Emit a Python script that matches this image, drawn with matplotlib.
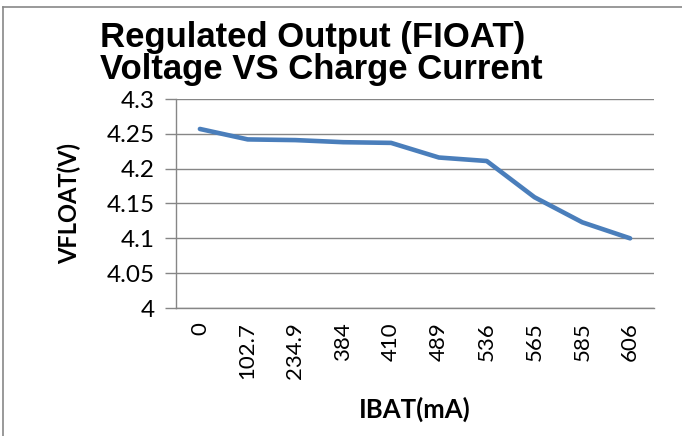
import matplotlib
matplotlib.use("Agg")
import matplotlib.pyplot as plt
from matplotlib.lines import Line2D

categories = ["0", "102.7", "234.9", "384", "410", "489", "536", "565", "585", "606"]
vfloat = [4.257, 4.242, 4.241, 4.238, 4.237, 4.216, 4.211, 4.159, 4.123, 4.100]
yticks = [4.0, 4.05, 4.1, 4.15, 4.2, 4.25, 4.3]
ytick_labels = ["4", "4.05", "4.1", "4.15", "4.2", "4.25", "4.3"]

fig = plt.figure(figsize=(6.82, 4.36), dpi=100)
fig.patch.set_facecolor("white")
ax = fig.add_axes([176/682, 1-308/436, (654-176)/682, (308-99)/436])

x = list(range(len(categories)))
ax.plot(x, vfloat, color="#4a7ebb", linewidth=3.3, solid_capstyle="round",
        solid_joinstyle="round", zorder=3)

ax.set_xlim(-0.5, len(categories) - 0.5)
ax.set_ylim(4.0, 4.3)
ax.set_yticks(yticks)
ax.set_yticklabels(ytick_labels, fontfamily="Lato", fontsize=17.5)
ax.set_xticks(x)
ax.set_xticklabels(categories, rotation=90, fontfamily="Lato", fontsize=16, va="top")
ax.tick_params(axis="x", length=0, pad=10)
ax.tick_params(axis="y", length=8, color="#868686", width=1, pad=7)

ax.grid(axis="y", color="#868686", linewidth=1)
ax.set_axisbelow(True)
for s in ["top", "right"]:
    ax.spines[s].set_visible(False)
for s in ["left", "bottom"]:
    ax.spines[s].set_color("#868686")
    ax.spines[s].set_linewidth(1)

ax.set_ylabel("VFLOAT(V)", fontfamily="Lato", fontweight="bold", fontsize=17)
ax.yaxis.set_label_coords((69 - 176) / (654 - 176), 0.5)
ax.yaxis.label.set_va("center")
ax.set_xlabel("IBAT(mA)", fontfamily="Lato", fontweight="bold", fontsize=18.5)
ax.xaxis.set_label_coords((415 - 176) / (654 - 176), (308 - 409) / (308 - 99))
ax.xaxis.label.set_va("center")

fig.text(100/682, 1-21/436, "Regulated Output (FIOAT)\nVoltage VS Charge Current",
         ha="left", va="top", fontfamily="Liberation Sans", fontweight="bold",
         fontsize=25, linespacing=0.98)

# chart frame (top and left edges visible)
fig.add_artist(Line2D([3/682, 3/682], [0, 1-7/436], transform=fig.transFigure,
                      color="#888888", linewidth=1.2))
fig.add_artist(Line2D([3/682, 1], [1-7/436, 1-7/436], transform=fig.transFigure,
                      color="#888888", linewidth=1.2))

fig.savefig("out.png", dpi=100)
